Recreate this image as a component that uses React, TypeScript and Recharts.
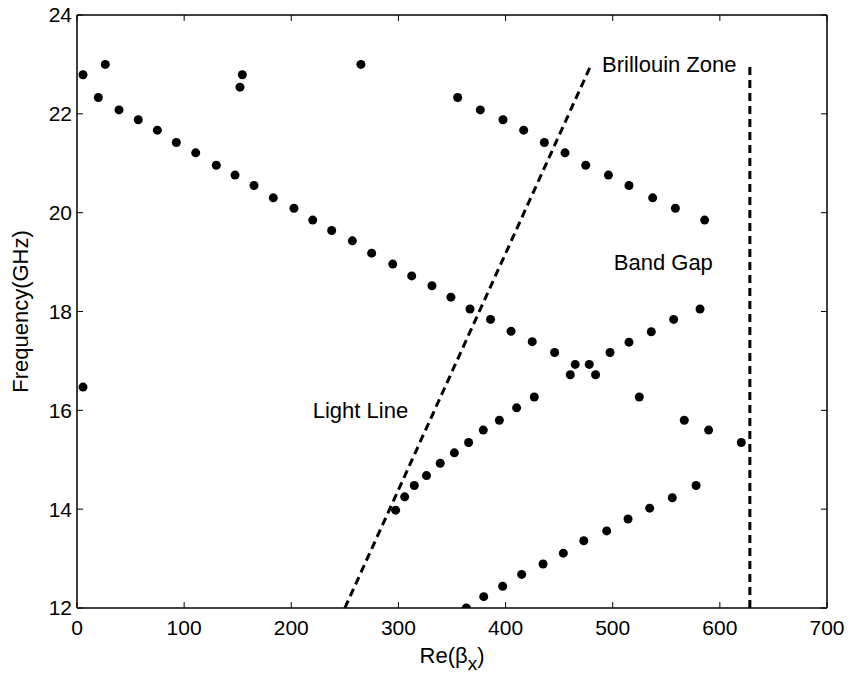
import React from "react";
import {
    ScatterChart,
    Scatter,
    XAxis,
    YAxis,
    ReferenceLine,
    ReferenceDot,
} from "recharts";

// stray points near the top of the chart and at the left edge
const strayPoints = [
    [5.6, 22.79], [26.4, 23.0], [152.1, 22.54], [154.3, 22.79], [265, 23.0], [5.6, 16.47],
];

// upper-left descending branch, down to the band gap
const branchDown = [
    [19.9, 22.33], [39.2, 22.08], [57.2, 21.88], [75, 21.67], [92.7, 21.42], [110.8, 21.21],
    [130, 20.96], [147.5, 20.76], [165.2, 20.55], [183.2, 20.3], [202.5, 20.09], [220, 19.85],
    [237.7, 19.64], [257, 19.43], [275, 19.18], [294.7, 18.96], [312.4, 18.72], [331.3, 18.52],
    [349, 18.29], [366.8, 18.05], [386, 17.84], [405.1, 17.6], [424.9, 17.39], [445.8, 17.17],
    [465, 16.93], [460.4, 16.72],
];

// rising branch above the gap
const branchUp = [
    [478.1, 16.93], [484, 16.72], [497.5, 17.17], [515.2, 17.38], [536, 17.59], [556.9, 17.84],
    [581.5, 18.05],
];

// upper-right descending branch
const upperRight = [
    [355.3, 22.33], [376.4, 22.08], [397.6, 21.88], [416.9, 21.67], [436.2, 21.42], [455.5, 21.21],
    [474.8, 20.96], [496, 20.76], [515.2, 20.55], [537.3, 20.3], [558.5, 20.09], [585.8, 19.85],
];

// middle branch rising from the light line
const middleUp = [
    [297.4, 13.98], [305.8, 14.25], [314.8, 14.48], [326.2, 14.68], [339, 14.93], [352.2, 15.14],
    [365.5, 15.35], [379.2, 15.6], [394.2, 15.8], [410.3, 16.05], [426.8, 16.27],
];

// below the gap, descending to the zone edge
const middleDown = [
    [524.8, 16.27], [566.8, 15.8], [589.5, 15.6], [620, 15.35],
];

// lowest branch
const lowest = [
    [363.4, 12.0], [379.6, 12.23], [397.3, 12.44], [415, 12.68], [435, 12.89], [453.9, 13.11],
    [473, 13.36], [494.4, 13.56], [514.3, 13.8], [534.5, 14.02], [555.6, 14.23], [577.8, 14.48],
];

const lightLine = [
    [250, 12],
    [480, 23],
];
const zoneEdge = [
    [628, 12],
    [628, 23],
];

const xTicks = [0, 100, 200, 300, 400, 500, 600, 700];
const yTicks = [12, 14, 16, 18, 20, 22, 24];
const X_MIN = 0;
const X_MAX = 700;
const Y_MIN = 12;
const Y_MAX = 24;

const notes = [
    { text: "Brillouin Zone", x: 490, y: 23.0 },
    { text: "Band Gap", x: 501, y: 19.0 },
    { text: "Light Line", x: 220, y: 16.0 },
];

const allPoints = [
    ...strayPoints,
    ...branchDown,
    ...branchUp,
    ...upperRight,
    ...middleUp,
    ...middleDown,
    ...lowest,
].map(([x, y]) => ({ x, y }));

// inward tick length, in data units (about 6px)
const TICK_DX = 5.6;
const TICK_DY = 0.12;

const FONT = "'Liberation Sans', Arial, Helvetica, sans-serif";

const Dot = (props: any) => (
    <circle cx={props.cx} cy={props.cy} r={4.5} fill="#000" />
);

const XTitle = (props: any) => {
    const vb = props.viewBox || {};
    const cx = vb.x + vb.width / 2;
    return (
        <text x={cx} y={663} textAnchor="middle" fontFamily={FONT} fontSize={22} fill="#000">
            Re(β
            <tspan dy={7} fontSize={19}>x</tspan>
            <tspan dy={-7}>)</tspan>
        </text>
    );
};

const YTitle = (props: any) => {
    const vb = props.viewBox || {};
    const cy = vb.y + vb.height / 2;
    return (
        <text
            x={28}
            y={cy}
            transform={`rotate(-90, 28, ${cy})`}
            textAnchor="middle"
            fontFamily={FONT}
            fontSize={22}
            fill="#000"
        >
            Frequency(GHz)
        </text>
    );
};

const tickStyle = { fill: "#000", fontSize: 21, fontFamily: FONT };

export default function App() {
    // box ticks, pointing inward on all four sides
    const tickSegs: { x: number; y: number }[][] = [];
    xTicks.forEach((t) => {
        tickSegs.push([{ x: t, y: Y_MIN }, { x: t, y: Y_MIN + TICK_DY }]);
        tickSegs.push([{ x: t, y: Y_MAX }, { x: t, y: Y_MAX - TICK_DY }]);
    });
    yTicks.forEach((t) => {
        tickSegs.push([{ x: X_MIN, y: t }, { x: X_MIN + TICK_DX, y: t }]);
        tickSegs.push([{ x: X_MAX, y: t }, { x: X_MAX - TICK_DX, y: t }]);
    });

    return (
        <div style={{ position: "absolute", left: 0, top: 0, background: "#fff" }}>
            <ScatterChart
                width={853}
                height={680}
                margin={{ top: 15, right: 26, bottom: 42, left: 17 }}
            >
                <XAxis
                    dataKey="x"
                    type="number"
                    domain={[X_MIN, X_MAX]}
                    ticks={xTicks}
                    allowDataOverflow
                    height={30}
                    stroke="#000"
                    strokeWidth={1.5}
                    tickLine={false}
                    tickSize={0}
                    tickMargin={12}
                    tick={tickStyle}
                    label={<XTitle />}
                />
                <YAxis
                    dataKey="y"
                    type="number"
                    domain={[Y_MIN, Y_MAX]}
                    ticks={yTicks}
                    allowDataOverflow
                    width={60}
                    stroke="#000"
                    strokeWidth={1.5}
                    tickLine={false}
                    tickSize={0}
                    tickMargin={5}
                    tick={tickStyle}
                    label={<YTitle />}
                />
                <ReferenceLine y={Y_MAX} stroke="#000" strokeWidth={1.5} />
                <ReferenceLine x={X_MAX} stroke="#000" strokeWidth={1.5} />
                {tickSegs.map((seg, i) => (
                    <ReferenceLine key={"t" + i} segment={seg} stroke="#000" strokeWidth={1} />
                ))}
                <ReferenceLine
                    segment={lightLine.map(([x, y]) => ({ x, y }))}
                    stroke="#000"
                    strokeWidth={3}
                    strokeDasharray="8 5"
                />
                <ReferenceLine
                    segment={zoneEdge.map(([x, y]) => ({ x, y }))}
                    stroke="#000"
                    strokeWidth={3}
                    strokeDasharray="8 5"
                />
                <Scatter data={allPoints} shape={Dot} isAnimationActive={false} />
                {notes.map((n) => (
                    <ReferenceDot
                        key={n.text}
                        x={n.x}
                        y={n.y}
                        r={0}
                        stroke="none"
                        fill="none"
                        label={{
                            value: n.text,
                            position: "right",
                            offset: 0,
                            fill: "#000",
                            fontSize: 22,
                            fontFamily: FONT,
                        }}
                    />
                ))}
            </ScatterChart>
        </div>
    );
}
